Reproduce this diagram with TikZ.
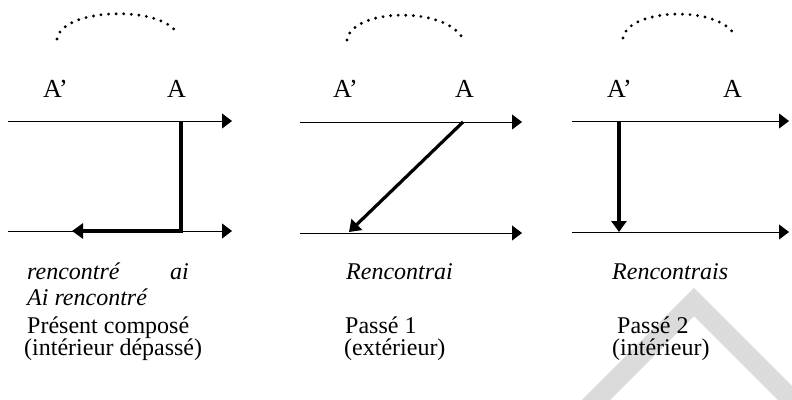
\documentclass[tikz,border=0pt]{standalone}
\usepackage{fontspec}
\setmainfont{Liberation Serif}
\usetikzlibrary{arrows.meta}
\begin{document}
\begin{tikzpicture}[x=1pt,y=-1pt,
  axis/.style={line width=0.9pt,-{Triangle[length=10pt,width=15pt]}},
  move/.style={line width=3.2pt,line join=miter,-{Triangle[length=11pt,width=15pt]}},
  dotarc/.style={line width=3.2pt,line cap=round,dash pattern=on 0pt off 7.6pt},
  lbl/.style={inner sep=0pt,anchor=base west,font=\fontsize{24}{28}\selectfont},
  pt/.style={inner sep=0pt,anchor=base west,font=\fontsize{26}{30}\selectfont},
  wm/.style={line width=20pt,draw=black!14,line join=miter}]
\useasboundingbox (0,0) rectangle (792,399);
% watermark stroke
\begin{scope}
\clip (0,0) rectangle (792,399);
\coordinate (w1) at (582,414);
\coordinate (w2) at (694,302);
\coordinate (w3) at (812,420);
\draw[wm] (w1) -- (w2) -- (w3);
\end{scope}
% ---------- panel 1 ----------
\coordinate (t1s) at (8,121);  \coordinate (t1e) at (232,121);
\coordinate (b1s) at (8,231);  \coordinate (b1e) at (232,231);
\draw[axis] (t1s) -- (t1e);
\draw[axis] (b1s) -- (b1e);
\coordinate (p1a) at (181,121); \coordinate (p1b) at (181,231); \coordinate (p1c) at (72,231);
\draw[move] (p1a) -- (p1b) -- (p1c);
\node[pt] (a1p) at (43,97) {A’};
\node[pt] (a1) at (167,97) {A};
\coordinate (c1l) at (57,39); \coordinate (c1r) at (177,33);
\draw[dotarc] (c1l) .. controls (62,8) and (160,5) .. (c1r);
% ---------- panel 2 ----------
\coordinate (t2s) at (300,122); \coordinate (t2e) at (522,122);
\coordinate (b2s) at (300,233); \coordinate (b2e) at (522,233);
\draw[axis] (t2s) -- (t2e);
\draw[axis] (b2s) -- (b2e);
\coordinate (p2a) at (463,122); \coordinate (p2b) at (349,232);
\draw[move] (p2a) -- (p2b);
\node[pt] (a2p) at (333,97) {A’};
\node[pt] (a2) at (455,97) {A};
\coordinate (c2l) at (347,40); \coordinate (c2r) at (463,39);
\draw[dotarc] (c2l) .. controls (352,8) and (446,6) .. (c2r);
% ---------- panel 3 ----------
\coordinate (t3s) at (572,121); \coordinate (t3e) at (789,121);
\coordinate (b3s) at (572,232); \coordinate (b3e) at (789,232);
\draw[axis] (t3s) -- (t3e);
\draw[axis] (b3s) -- (b3e);
\coordinate (p3a) at (619,121); \coordinate (p3b) at (619,232);
\draw[move] (p3a) -- (p3b);
\node[pt] (a3p) at (607,97) {A’};
\node[pt] (a3) at (723,97) {A};
\coordinate (c3l) at (623,38); \coordinate (c3r) at (735,36);
\draw[dotarc] (c3l) .. controls (628,8) and (720,5) .. (c3r);
% ---------- texts ----------
\node[lbl] (r1) at (27,279) {\itshape rencontré};
\node[lbl] (r1b) at (170,279) {\itshape ai};
\node[lbl] (r1c) at (27,305) {\itshape Ai rencontré};
\node[lbl] (n1) at (27,333) {Présent composé};
\node[lbl] (d1) at (24,355) {(intérieur dépassé)};
\node[lbl] (r2) at (346,279) {\itshape Rencontrai};
\node[lbl] (n2) at (345,333) {Passé 1};
\node[lbl] (d2) at (344,355) {(extérieur)};
\node[lbl] (r3) at (612,279) {\itshape Rencontrais};
\node[lbl] (n3) at (617,333) {Passé 2};
\node[lbl] (d3) at (612,355) {(intérieur)};
\end{tikzpicture}
\end{document}
